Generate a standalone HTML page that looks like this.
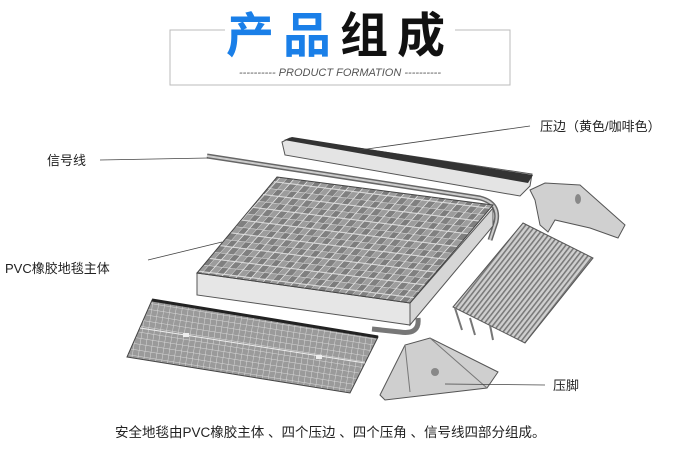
<!DOCTYPE html>
<html><head><meta charset="utf-8"><style>
body{margin:0;background:#fff;width:680px;height:455px;overflow:hidden}
svg{display:block}
text{font-family:"Liberation Sans","Noto Sans CJK SC",sans-serif}
</style></head><body>
<svg width="680" height="455" viewBox="0 0 680 455">
<defs>
<pattern id="chk" width="14" height="14" patternUnits="userSpaceOnUse" patternTransform="rotate(7) skewX(-35)">
<rect width="14" height="14" fill="#9c9c9c"/>
<rect width="7" height="7" fill="#7c7c7c"/><rect x="7" y="7" width="7" height="7" fill="#808080"/>
<path d="M0 0H14M0 7H14M0 0V14M7 0V14" stroke="#e2e2e2" stroke-width="1"/>
</pattern>
<pattern id="str" width="4" height="4" patternUnits="userSpaceOnUse" patternTransform="rotate(38)">
<rect width="4" height="4" fill="#cfcfcf"/><rect width="1.6" height="4" fill="#7a7a7a"/>
</pattern>
<pattern id="grid" width="6" height="6" patternUnits="userSpaceOnUse" patternTransform="rotate(9)">
<rect width="6" height="6" fill="#9a9a9a"/><path d="M0 0H6M0 0V6" stroke="#d8d8d8" stroke-width="1"/>
</pattern>
</defs>
<!-- title frame -->
<path d="M225 30H170V85H510V30H455" fill="none" stroke="#bbb" stroke-width="1"/>
<text x="226" y="52" font-size="48" font-weight="bold" letter-spacing="9"><tspan fill="#1a7fe8">产品</tspan><tspan fill="#111">组成</tspan></text>
<text x="340" y="76" font-size="11" font-style="italic" fill="#555" text-anchor="middle">---------- PRODUCT FORMATION ----------</text>

<!-- top edge strip -->
<polygon points="282,142 290,138 532,174 530,186 520,196 285,155" fill="#e4e4e4" stroke="#555" stroke-width="1"/>
<polygon points="284,140 292,137 533,175 528,183" fill="#333"/>
<!-- signal wire -->
<path d="M207 156 L480 198 Q500 203 496 222 L490 240" fill="none" stroke="#666" stroke-width="5"/>
<path d="M207 156 L480 198 Q500 203 496 222 L490 240" fill="none" stroke="#ccc" stroke-width="2"/>
<path d="M418 318 Q420 335 400 332 L372 329" fill="none" stroke="#777" stroke-width="5"/>
<!-- mat -->
<polygon points="197,273 410,303 410,325 197,295" fill="#e6e6e6" stroke="#555"/>
<polygon points="410,303 493,208 493,226 410,325" fill="#d6d6d6" stroke="#555"/>
<polygon points="277,177 493,205 410,303 197,273" fill="url(#chk)" stroke="#444"/>
<!-- right ramp -->
<polygon points="523,223 593,258 525,343 453,307" fill="url(#str)" stroke="#555"/>
<path d="M455 308 L462 330 M470 318 L475 335 M490 325 L493 340" stroke="#777" stroke-width="2"/>
<!-- top corner piece -->
<polygon points="530,190 545,183 580,185 625,225 618,238 590,228 555,220 548,232 540,225 535,200" fill="#d0d0d0" stroke="#555"/>
<ellipse cx="578" cy="199" rx="3" ry="5" fill="#888"/>
<!-- bottom-left ramp -->
<polygon points="152,300 378,337 350,393 127,357" fill="url(#grid)" stroke="#444"/>
<path d="M152 300 L378 337" stroke="#222" stroke-width="3"/>
<path d="M140 328 L365 363" stroke="#eee" stroke-width="1"/>
<rect x="183" y="333" width="6" height="4" fill="#eee"/><rect x="316" y="355" width="6" height="4" fill="#eee"/>
<!-- 压脚 -->
<polygon points="380,395 405,345 430,338 498,372 487,388 385,400" fill="#cfcfcf" stroke="#555"/>
<path d="M405 345 L410 392 M430 338 L487 388" stroke="#777"/>
<circle cx="435" cy="372" r="4" fill="#888"/>
<!-- leader lines & labels -->
<g stroke="#444" stroke-width="0.8">
<line x1="360" y1="150" x2="530" y2="126"/>
<line x1="100" y1="160" x2="208" y2="158"/>
<line x1="148" y1="260" x2="222" y2="242"/>
<line x1="445" y1="384" x2="545" y2="385"/>
</g>
<g font-size="13" fill="#222">
<text x="540" y="131">压边（黄色/咖啡色）</text>
<text x="47" y="165">信号线</text>
<text x="5" y="273">PVC橡胶地毯主体</text>
<text x="553" y="390">压脚</text>
<text x="115" y="437" font-size="13.5">安全地毯由PVC橡胶主体 、四个压边 、四个压角 、信号线四部分组成。</text>
</g>
</svg>
</body></html>
